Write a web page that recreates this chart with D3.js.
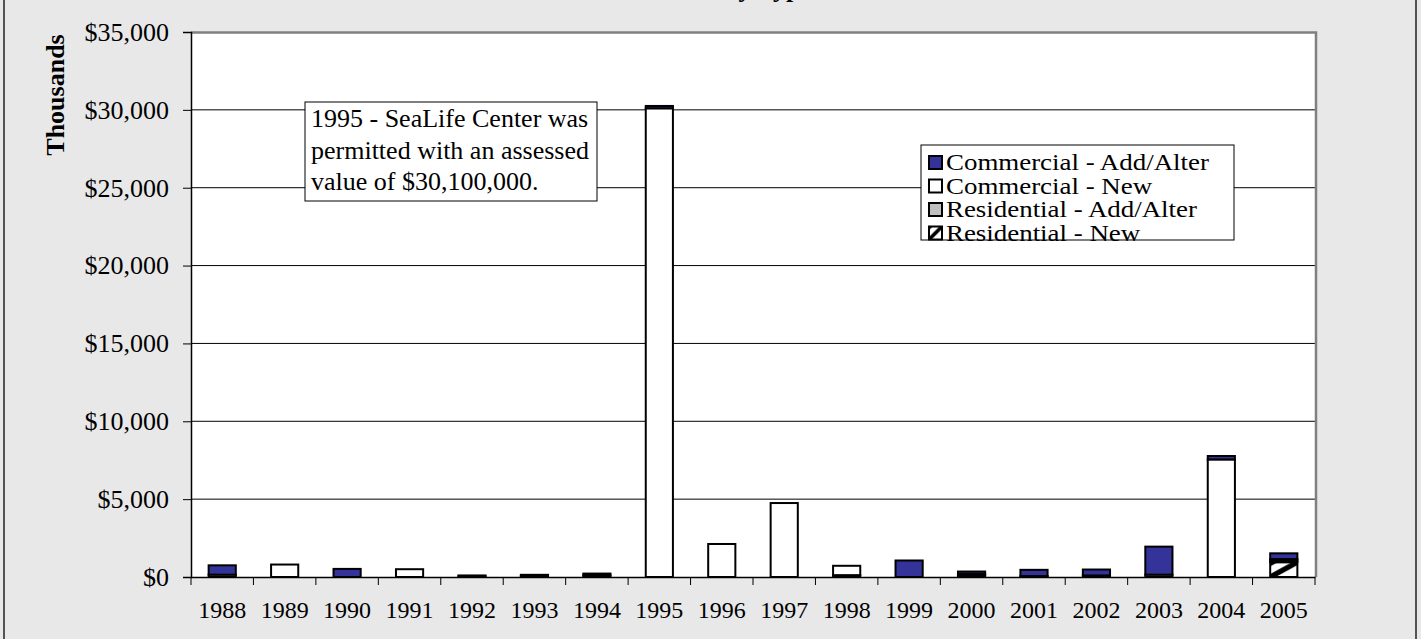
<!DOCTYPE html>
<html>
<head>
<meta charset="utf-8">
<script src="https://cdn.jsdelivr.net/npm/d3@7"></script>
<style>
  body { margin: 0; background: #e8e8e8; }
  svg { display: block; font-family: "Liberation Serif", "Times New Roman", serif; }
</style>
</head>
<body>
<div id="chart"></div>
<script>
// data, in thousands of dollars
var years = ["1988", "1989", "1990", "1991", "1992", "1993", "1994", "1995", "1996",
    "1997", "1998", "1999", "2000", "2001", "2002", "2003", "2004", "2005"];
var commercialAddAlter = [600, 0, 520, 0, 60, 80, 120, 150, 0, 0, 0, 1060, 150, 400, 380, 1800, 220, 370];
var commercialNew = [0, 800, 0, 500, 0, 0, 0, 30100, 2120, 4750, 600, 0, 100, 0, 0, 0, 7550, 100];
var residentialAddAlter = [150, 0, 0, 0, 40, 60, 100, 0, 0, 0, 120, 0, 100, 60, 100, 150, 0, 100];
var residentialNew = [0, 0, 0, 0, 0, 0, 0, 0, 0, 0, 0, 0, 0, 0, 0, 0, 0, 950];
var yTicks = [0, 5000, 10000, 15000, 20000, 25000, 30000, 35000];

var seriesInfo = [
    { key: "resNew", label: "Residential - New", values: residentialNew, fill: "url(#hatch)" },
    { key: "resAdd", label: "Residential - Add/Alter", values: residentialAddAlter, fill: "#c0c0c0" },
    { key: "comNew", label: "Commercial - New", values: commercialNew, fill: "#ffffff" },
    { key: "comAdd", label: "Commercial - Add/Alter", values: commercialAddAlter, fill: "#333399" }
];

var svgWidth = 1421;
var svgHeight = 639;
var margin = { top: 32, right: 106, bottom: 62, left: 191 };
var width = svgWidth - margin.left - margin.right;
var height = svgHeight - margin.top - margin.bottom;

var svg = d3.select("#chart").append("svg")
    .attr("width", svgWidth)
    .attr("height", svgHeight);

// hatch pattern for residential new (one wide diagonal per shape)
var defs = svg.append("defs");
var pat = defs.append("pattern")
    .attr("id", "hatch")
    .attr("patternUnits", "objectBoundingBox")
    .attr("patternContentUnits", "objectBoundingBox")
    .attr("width", 1)
    .attr("height", 1);
pat.append("rect").attr("width", 1).attr("height", 1).attr("fill", "#fff");
pat.append("polygon")
    .attr("points", "0,0.8 0.8,0 1,0 1,0.2 0.2,1 0,1")
    .attr("fill", "#000");
pat.append("polygon")
    .attr("points", "0,0 0.28,0 0,0.28")
    .attr("fill", "#000");

// chart area background + border
svg.append("rect")
    .attr("x", 4).attr("y", -5)
    .attr("width", 1412).attr("height", 660)
    .attr("fill", "#e8e8e8")
    .attr("stroke", "#222")
    .attr("stroke-width", 1.5);

// title (mostly cut off at the top, as in the original)
svg.append("text")
    .attr("x", 812)
    .attr("y", -3)
    .attr("text-anchor", "end")
    .attr("font-size", 26)
    .attr("font-weight", "bold")
    .text("Permit Values by Type");

var chartGroup = svg.append("g")
    .attr("transform", `translate(${margin.left}, ${margin.top})`);

chartGroup.append("rect")
    .attr("width", width)
    .attr("height", height)
    .attr("fill", "#fff");

var table = years.map(function(y, i) {
    var row = { year: y };
    seriesInfo.forEach(function(s) { row[s.key] = s.values[i]; });
    return row;
});

var xBandScale = d3.scaleBand()
    .domain(years)
    .range([0, width])
    .paddingInner(0.565)
    .paddingOuter(0.2825);

var yLinearScale = d3.scaleLinear()
    .domain([0, 35000])
    .range([height, 0]);

// gridlines
chartGroup.append("g")
    .selectAll("line")
    .data(yTicks.slice(1, -1))
    .enter()
    .append("line")
    .attr("x1", 0)
    .attr("x2", width)
    .attr("y1", d => yLinearScale(d))
    .attr("y2", d => yLinearScale(d))
    .attr("stroke", "#000")
    .attr("stroke-width", 1);

// plot border (top and right)
chartGroup.append("path")
    .attr("d", `M0,0.5 H${width + 1} V${height}`)
    .attr("fill", "none")
    .attr("stroke", "#808080")
    .attr("stroke-width", 2.5);

// stacked bars
var stack = d3.stack().keys(seriesInfo.map(s => s.key));
var stacked = stack(table);

var layers = chartGroup.selectAll(".layer")
    .data(stacked)
    .enter()
    .append("g")
    .attr("class", "layer")
    .attr("fill", (d, i) => seriesInfo[i].fill);

layers.selectAll("rect")
    .data(d => d.filter(p => p[1] - p[0] > 0))
    .enter()
    .append("rect")
    .attr("x", d => xBandScale(d.data.year))
    .attr("width", xBandScale.bandwidth())
    .attr("y", d => yLinearScale(d[1]))
    .attr("height", d => yLinearScale(d[0]) - yLinearScale(d[1]))
    .attr("stroke", "#000")
    .attr("stroke-width", 2);

// y axis
var leftAxis = d3.axisLeft(yLinearScale)
    .tickValues(yTicks)
    .tickSize(8)
    .tickPadding(14)
    .tickFormat(d => "$" + d3.format(",")(d));

var yAxis = chartGroup.append("g").call(leftAxis);
yAxis.select(".domain").attr("stroke", "#000").attr("stroke-width", 1.5);
yAxis.selectAll(".tick line").attr("stroke", "#000");
yAxis.selectAll("text")
    .attr("font-family", "Liberation Serif, Times New Roman, serif")
    .attr("font-size", 26)
    .attr("fill", "#000");

// x axis
var bottomAxis = d3.axisBottom(xBandScale).tickSize(0).tickPadding(24);
var xAxis = chartGroup.append("g")
    .attr("transform", `translate(0, ${height})`)
    .call(bottomAxis);
xAxis.select(".domain").attr("stroke", "#000").attr("stroke-width", 1.5);
xAxis.selectAll("text")
    .attr("font-family", "Liberation Serif, Times New Roman, serif")
    .attr("font-size", 24)
    .attr("fill", "#000");

// category boundary ticks
var step = xBandScale.step();
xAxis.append("g")
    .selectAll("line")
    .data(d3.range(years.length + 1))
    .enter()
    .append("line")
    .attr("x1", d => d * step)
    .attr("x2", d => d * step)
    .attr("y1", 0)
    .attr("y2", 8)
    .attr("stroke", "#000");

// y axis title
svg.append("text")
    .attr("transform", "translate(64, 95) rotate(-90)")
    .attr("text-anchor", "middle")
    .attr("font-size", 26)
    .attr("font-weight", "bold")
    .text("Thousands");

// annotation
var note = svg.append("g").attr("transform", "translate(305, 102)");
note.append("rect")
    .attr("width", 292)
    .attr("height", 99)
    .attr("fill", "#fff")
    .attr("stroke", "#000");
["1995 - SeaLife Center was", "permitted with an assessed", "value of $30,100,000."]
    .forEach(function(line, i) {
        note.append("text")
            .attr("x", 6)
            .attr("y", 25 + i * 31.5)
            .attr("font-size", 26)
            .text(line);
    });

// legend
var legend = svg.append("g").attr("transform", "translate(921, 145)");
legend.append("rect")
    .attr("width", 313)
    .attr("height", 95)
    .attr("fill", "#fff")
    .attr("stroke", "#000");
seriesInfo.slice().reverse().forEach(function(s, i) {
    var item = legend.append("g").attr("transform", `translate(8, ${11 + i * 23.5})`);
    item.append("rect")
        .attr("width", 13)
        .attr("height", 13)
        .attr("fill", s.fill)
        .attr("stroke", "#000")
        .attr("stroke-width", 2);
    // legend text is drawn slightly wide, like the original
    item.append("text")
        .attr("transform", "translate(17, 14) scale(1.17, 1)")
        .attr("font-size", 23)
        .text(s.label);
});
</script>
</body>
</html>
